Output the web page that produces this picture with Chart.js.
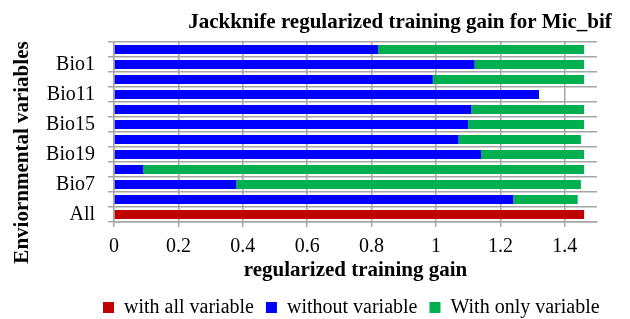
<!DOCTYPE html>
<html><head><meta charset="utf-8">
<script src="https://cdn.jsdelivr.net/npm/chart.js@4"></script>
<style>html,body{margin:0;padding:0;background:#fff;overflow:hidden;} #wrap{width:630px;height:319px;position:relative;}</style>
</head><body><div id="wrap"><canvas id="c" width="630" height="319"></canvas></div>
<script>
// Categories, top to bottom (unlabelled rows in the original are left blank)
const categories = ["", "Bio1", "", "Bio11", "", "Bio15", "", "Bio19", "", "Bio7", "", "All"];
// Series values (regularized training gain)
const withAllVariable  = [null, null, null, null, null, null, null, null, null, null, null, 1.46];
const withoutVariable  = [0.82, 1.12, 0.99, 1.32, 1.11, 1.10, 1.07, 1.14, 0.09, 0.38, 1.24, null];
const withOnlyVariable = [0.64, 0.34, 0.47, 0.00, 0.35, 0.36, 0.38, 0.32, 1.37, 1.07, 0.20, null];
// Tick labels of the gain axis
const gainTicks = [0, 0.2, 0.4, 0.6, 0.8, 1, 1.2, 1.4];

const FAM = "'Liberation Serif','Times New Roman',serif";
const GRID = '#a6a6a6';
const LEG_PAD = 12;
let xAxisH = 57, yAxisW = 114;

const target = {top: 42, bottom: 222, left: 114, right: 597, titleCX: 400, legendBoxX: 103, legendTextCY: 307.5, yTitleCY: 152.5, xTitleCY: 271};

const shiftPlugin = {
  id: 'shift',
  afterLayout(chart) {
    const t = chart.titleBlock;
    if (t) { const dx = target.titleCX - (t.left + t.right) / 2; t.left += dx; t.right += dx; }
    const lg = chart.legend;
    if (lg && lg.lineWidths) {
      const pad = lg.options.labels.padding;
      const firstX = (lg.left + pad + lg.right - lg.lineWidths[0]) / 2;
      const dx = target.legendBoxX - firstX;
      lg.left += dx; lg.right += dx;
      const dy = (target.legendTextCY - pad - 10) - lg.top;
      lg.top += dy; lg.bottom += dy;
    }
    const ys = chart.scales.y;
    if (ys && !ys._patched) {
      const orig = ys.drawTitle;
      ys.drawTitle = function () {
        const c = this.ctx; c.save();
        c.translate(0, target.yTitleCY - (this.top + this.bottom) / 2);
        orig.call(this); c.restore();
      };
      ys._patched = true;
    }
  }
};

const chart = new Chart(document.getElementById('c').getContext('2d'), {
  type: 'bar',
  data: {
    labels: categories,
    datasets: [
      {label: 'with all variable', data: withAllVariable, backgroundColor: '#C00000'},
      {label: 'without variable', data: withoutVariable, backgroundColor: '#0000FF'},
      {label: 'With only variable', data: withOnlyVariable, backgroundColor: '#00B050'}
    ]
  },
  options: {
    indexAxis: 'y',
    responsive: false,
    animation: false,
    devicePixelRatio: 1,
    layout: {padding: {top: 0, left: 0, right: 33, bottom: 0}},
    datasets: {bar: {categoryPercentage: 1, barPercentage: 0.6, borderWidth: 0}},
    scales: {
      x: {
        stacked: true, min: 0, max: 1.5,
        afterBuildTicks: s => { s.ticks = gainTicks.map(v => ({value: v})); },
        ticks: {font: {family: FAM, size: 20}, color: '#000', padding: 8, maxRotation: 0, autoSkip: false, callback: v => String(v)},
        grid: {color: GRID, lineWidth: 1.5, tickLength: 5},
        border: {color: GRID, width: 1.5},
        title: {display: true, text: 'regularized training gain', color: '#000', font: {family: FAM, size: 21, weight: 'bold'}, padding: {top: 0, bottom: 0}},
        afterFit: s => { s.height = xAxisH; }
      },
      y: {
        stacked: true,
        ticks: {font: {family: FAM, size: 20}, color: '#000', padding: 13, autoSkip: false},
        grid: {color: GRID, lineWidth: 1.5, tickLength: 6, offset: true},
        border: {color: GRID, width: 1.5},
        title: {display: true, text: 'Enviornmental variables', color: '#000', font: {family: FAM, size: 21, weight: 'bold'}, padding: {top: 10, bottom: 0}},
        afterFit: s => { s.width = yAxisW; }
      }
    },
    plugins: {
      title: {display: true, text: 'Jackknife regularized training gain for Mic_bif', color: '#000', font: {family: FAM, size: 21, weight: 'bold'}, padding: {top: 10, bottom: 7}},
      legend: {position: 'bottom', labels: {boxWidth: 11, boxHeight: 11, padding: LEG_PAD, color: '#000', font: {family: FAM, size: 20}}},
      tooltip: {enabled: false}
    }
  },
  plugins: [shiftPlugin]
});

// correct layout so the plot area lands where the original one is
for (let i = 0; i < 3; i++) {
  const a = chart.chartArea;
  chart.options.plugins.title.padding.bottom += target.top - a.top;
  xAxisH += a.bottom - target.bottom;
  yAxisW += target.left - a.left;
  chart.options.layout.padding.right += a.right - target.right;
  const lh = 21 * 1.2;
  chart.options.scales.x.title.padding.bottom = (target.bottom + xAxisH) - lh / 2 - target.xTitleCY;
  chart.update();
}
</script>
</body></html>
